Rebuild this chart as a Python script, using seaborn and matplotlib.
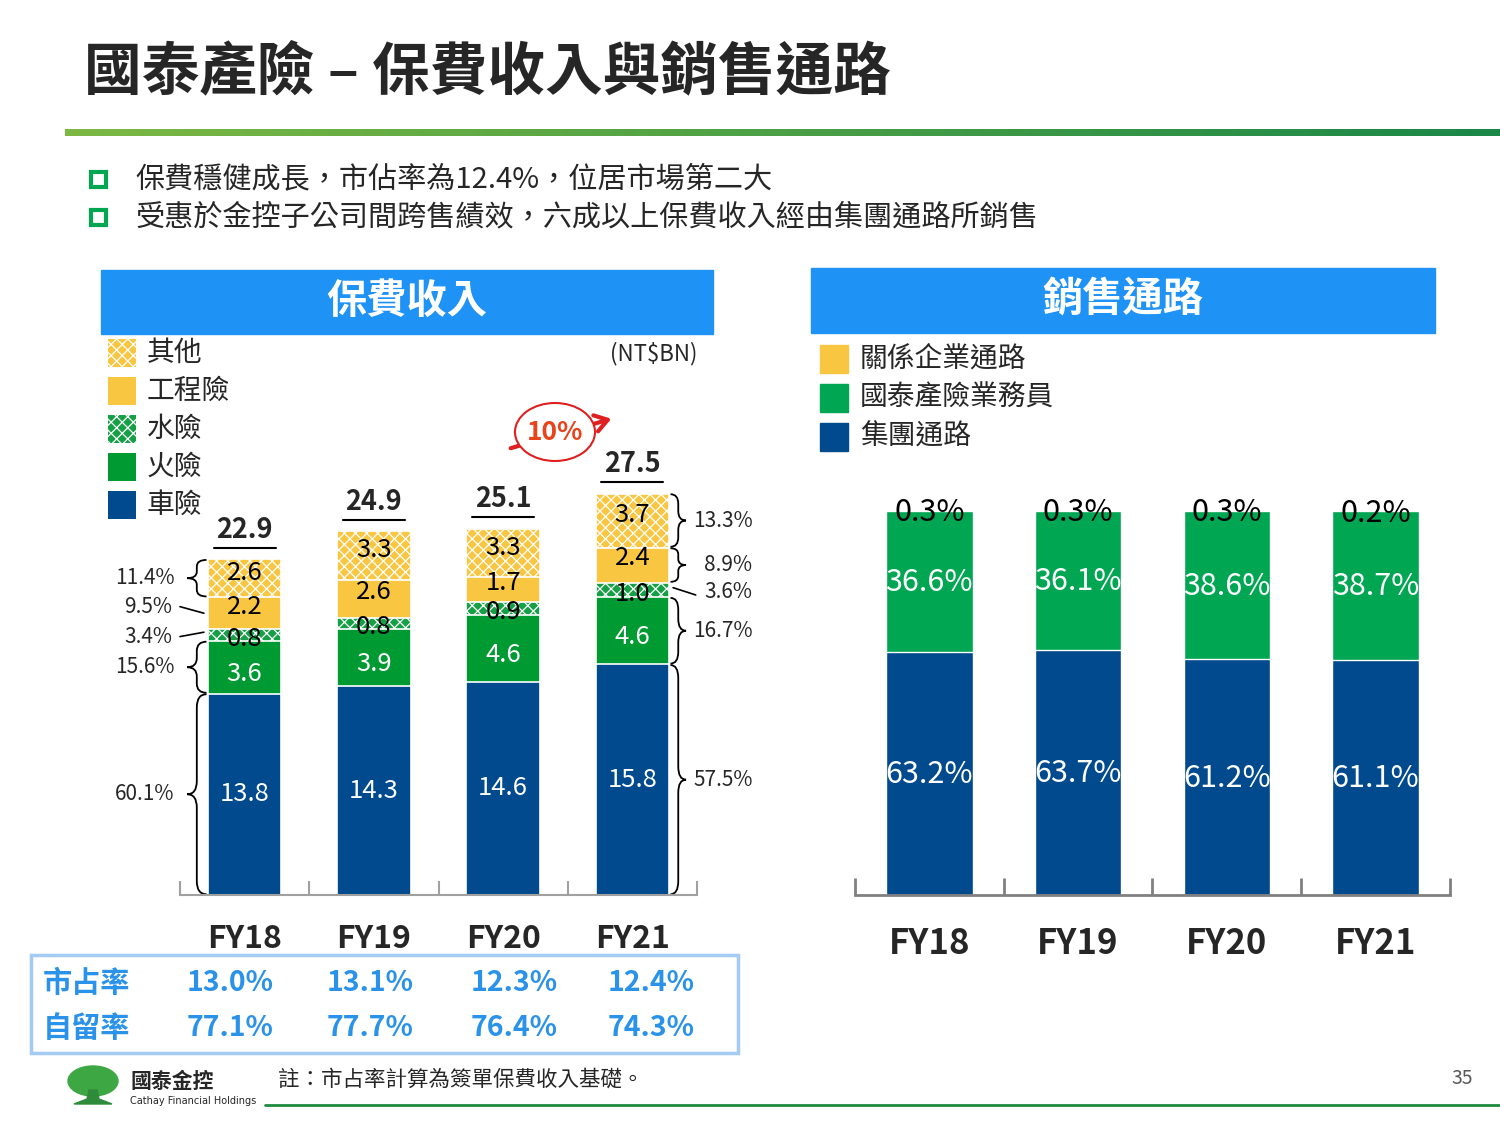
import numpy as np
import matplotlib.pyplot as plt
import seaborn as sns
from matplotlib.path import Path
from matplotlib.patches import PathPatch, Ellipse, Rectangle, FancyArrowPatch, Polygon
from matplotlib.colors import LinearSegmentedColormap

# ---------------------------------------------------------
# 1. DATA
# ---------------------------------------------------------
years = ['FY18', 'FY19', 'FY20', 'FY21']

# 保費收入 (NT$BN)
auto = [13.8, 14.3, 14.6, 15.8]          # 車險
fire = [3.6, 3.9, 4.6, 4.6]              # 火險
marine = [0.8, 0.8, 0.9, 1.0]            # 水險
engineering = [2.2, 2.6, 1.7, 2.4]       # 工程險
others = [2.6, 3.3, 3.3, 3.7]            # 其他
totals = [22.9, 24.9, 25.1, 27.5]
share_fy18 = ['60.1%', '15.6%', '3.4%', '9.5%', '11.4%']
share_fy21 = ['57.5%', '16.7%', '3.6%', '8.9%', '13.3%']
growth_label = '10%'

# 銷售通路 (%)
group_channel = [63.2, 63.7, 61.2, 61.1]     # 集團通路
agents = [36.6, 36.1, 38.6, 38.7]            # 國泰產險業務員
affiliates = [0.3, 0.3, 0.3, 0.2]            # 關係企業通路

market_share = ['13.0%', '13.1%', '12.3%', '12.4%']
retention = ['77.1%', '77.7%', '76.4%', '74.3%']

# ---------------------------------------------------------
# 2. STYLE
# ---------------------------------------------------------
sns.set_theme(style='white')
plt.rcParams['font.family'] = ['Noto Sans CJK TC', 'DejaVu Sans']
plt.rcParams['hatch.linewidth'] = 0.9

BLUE = '#004A8D'
GREEN_L = '#009A32'
GREEN_H = '#16A046'
GREEN_R = '#00A651'
YELLOW = '#F8C641'
HEAD = '#1F93F5'
TXT_BLUE = '#2A92E8'

W, H = 1500, 1125
fig = plt.figure(figsize=(15, 11.25), dpi=100)


def fx(x):
    return x / W


def fy(y):
    return 1 - y / H


def brace(ax, x_end, width, y0, y1, **kw):
    """curly brace: ends at x_end, tip at x_end - width (negative width -> '}')"""
    ym = (y0 + y1) / 2
    r = min(0.18 * (y1 - y0), 0.9)
    xm = x_end - width / 2
    xt = x_end - width
    verts = [(x_end, y1), (xm, y1), (xm, y1 - r),
             (xm, ym + r), (xm, ym), (xt, ym),
             (xm, ym), (xm, ym - r),
             (xm, y0 + r), (xm, y0), (x_end, y0)]
    codes = [Path.MOVETO, Path.CURVE3, Path.CURVE3,
             Path.LINETO, Path.CURVE3, Path.CURVE3,
             Path.CURVE3, Path.CURVE3,
             Path.LINETO, Path.CURVE3, Path.CURVE3]
    ax.add_patch(PathPatch(Path(verts, codes), fill=False, lw=1.3,
                           edgecolor='black', clip_on=False, **kw))


# ---------------------------------------------------------
# 3. TITLE AREA
# ---------------------------------------------------------
fig.text(fx(84), fy(72), '國泰產險 – 保費收入與銷售通路', fontsize=41.5,
         fontweight='bold', va='center', ha='left')

ax_rule = fig.add_axes([fx(65), fy(136), fx(1435), 7 / H])
grad = np.linspace(0, 1, 256).reshape(1, -1)
ax_rule.imshow(grad, aspect='auto',
               cmap=LinearSegmentedColormap.from_list('g', ['#7DB843', '#1A8748']))
ax_rule.axis('off')

bullets = ['保費穩健成長，市佔率為12.4%，位居市場第二大',
           '受惠於金控子公司間跨售績效，六成以上保費收入經由集團通路所銷售']
for y, t in zip([179, 217], bullets):
    fig.add_artist(Rectangle((fx(91), fy(y + 8)), 15 / W, 15 / H, fill=False,
                             edgecolor='#00A651', lw=3))
    fig.text(fx(135), fy(y), t, fontsize=21, va='center', ha='left')

# header boxes
fig.add_artist(Rectangle((fx(101), fy(334)), 612 / W, 64 / H, color=HEAD))
fig.text(fx(407), fy(301), '保費收入', fontsize=29, fontweight='bold',
         color='white', ha='center', va='center')
fig.add_artist(Rectangle((fx(811), fy(333)), 624 / W, 65 / H, color=HEAD))
fig.text(fx(1123), fy(300), '銷售通路', fontsize=29, fontweight='bold',
         color='white', ha='center', va='center')

# ---------------------------------------------------------
# 4. LEFT CHART: 保費收入 (stacked)
# ---------------------------------------------------------
ax1 = fig.add_axes([fx(180), fy(895), 517 / W, 455 / H])
layers = [('車險', auto, BLUE, None, 'white', 0.0),
          ('火險', fire, GREEN_L, None, 'white', -0.45),
          ('水險', marine, GREEN_H, 'xxx', 'black', -0.25),
          ('工程險', engineering, YELLOW, None, 'black', 0.45),
          ('其他', others, YELLOW, 'xxx', 'black', 0.35)]
cum = np.cumsum([l[1] for l in layers], axis=0)
bw = 0.57
for i in reversed(range(len(layers))):
    name, vals, col, hatch, _, _ = layers[i]
    sns.barplot(x=years, y=cum[i], color=col, saturation=1, width=bw,
                edgecolor='white', linewidth=1.2, hatch=hatch, ax=ax1)

for i, (name, vals, col, hatch, tcol, off) in enumerate(layers):
    for j, v in enumerate(vals):
        ax1.text(j, cum[i][j] - v / 2 + off, f'{v:.1f}', color=tcol,
                 fontsize=18.5, ha='center', va='center')

for j, t in enumerate(totals):
    top = cum[-1][j]
    ax1.text(j, top + 2.0, f'{t:.1f}', fontsize=19.5, fontweight='bold',
             ha='center', va='center')
    ax1.plot([j - 0.24, j + 0.24], [top + 0.8, top + 0.8], color='black',
             lw=1.5, clip_on=False)

ax1.set_xlim(-0.5, 3.5)
ax1.set_ylim(0, 455 / 14.6)
ax1.set_xlabel('')
ax1.set_ylabel('')
for s in ['top', 'right', 'left']:
    ax1.spines[s].set_visible(False)
ax1.spines['bottom'].set_color('#A0A0A0')
ax1.spines['bottom'].set_linewidth(1.5)
ax1.set_yticks([])
ax1.set_xticks(range(4))
ax1.set_xticklabels(years, fontsize=23, fontweight='bold')
ax1.tick_params(axis='x', which='major', bottom=True, length=0, pad=20)
ax1.set_xticks(np.arange(-0.5, 4, 1), minor=True)
ax1.tick_params(axis='x', which='minor', bottom=True, direction='in', length=10,
                width=1.5, color='#A0A0A0')

# share annotations FY18 (left side)
lo = cum - np.array([l[1] for l in layers])
xl = -bw / 2 - 0.01
xt_left = -0.56
for k, lab in enumerate(share_fy18):
    y0, y1 = lo[k][0], cum[k][0]
    ym = (y0 + y1) / 2
    if k == 2:
        ax1.plot([xl - 0.02, -0.5], [ym + 0.2, ym - 0.1], color='black', lw=1.2, clip_on=False)
        ax1.text(xt_left, ym - 0.15, lab, fontsize=15, ha='right', va='center')
    elif k == 3:
        ax1.plot([xl - 0.02, -0.5], [ym, ym + 0.45], color='black', lw=1.2, clip_on=False)
        ax1.text(xt_left, ym + 0.4, lab, fontsize=15, ha='right', va='center')
    else:
        brace(ax1, xl, 0.15, y0 + 0.05, y1 - 0.05)
        ax1.text(xt_left + 0.02, ym, lab, fontsize=15, ha='right', va='center')

# share annotations FY21 (right side)
xr = 3 + bw / 2 + 0.01
xt_right = 3.93
for k, lab in enumerate(share_fy21):
    y0, y1 = lo[k][3], cum[k][3]
    ym = (y0 + y1) / 2
    if k == 2:
        ax1.plot([xr + 0.02, 3.49], [ym + 0.15, ym - 0.35], color='black', lw=1.2, clip_on=False)
        ax1.text(xt_right, ym - 0.15, lab, fontsize=15, ha='right', va='center')
    else:
        brace(ax1, xr, -0.12, y0 + 0.05, y1 - 0.05)
        ax1.text(xt_right, ym, lab, fontsize=15, ha='right', va='center')

# left legend
leg_items = [('其他', YELLOW, 'xxx'), ('工程險', YELLOW, None), ('水險', GREEN_H, 'xxx'),
             ('火險', GREEN_L, None), ('車險', BLUE, None)]
for k, (name, col, hatch) in enumerate(leg_items):
    y = 353 + 38 * k
    fig.add_artist(Rectangle((fx(108), fy(y + 14)), 28 / W, 28 / H, facecolor=col,
                             edgecolor='white', hatch=hatch, lw=0))
    fig.text(fx(147), fy(y), name, fontsize=20, ha='left', va='center')
fig.text(fx(697), fy(354), '(NT$BN)', fontsize=16, ha='right', va='center')

# growth annotation
fig.add_artist(FancyArrowPatch((fx(508), fy(449)), (fx(614), fy(418)),
                               arrowstyle='->,head_length=9,head_width=6',
                               color='#E02020', lw=3, mutation_scale=1))
fig.add_artist(Ellipse((fx(555), fy(432)), 80 / W, 58 / H, facecolor='white',
                       edgecolor='#E02020', lw=1.5))
fig.text(fx(555), fy(432), growth_label, fontsize=19, fontweight='bold',
         color='#E8441C', ha='center', va='center')

# ---------------------------------------------------------
# 5. RIGHT CHART: 銷售通路 (100% stacked)
# ---------------------------------------------------------
ax2 = fig.add_axes([fx(855), fy(895), 595 / W, 395 / H])
ch_layers = [(group_channel, BLUE, 'white'), (agents, GREEN_R, 'white'),
             (affiliates, YELLOW, 'black')]
ch_cum = np.cumsum([l[0] for l in ch_layers], axis=0)
bw2 = 0.58
for i in reversed(range(len(ch_layers))):
    sns.barplot(x=years, y=ch_cum[i], color=ch_layers[i][1], saturation=1,
                width=bw2, edgecolor='white', linewidth=1.0, ax=ax2)
for i, (vals, col, tcol) in enumerate(ch_layers):
    for j, v in enumerate(vals):
        y = ch_cum[i][j] - 0.8 if i == 2 else ch_cum[i][j] - v / 2 - 0.4
        ax2.text(j, y, f'{v:.1f}%', color=tcol, fontsize=22,
                 ha='center', va='center')

ax2.set_xlim(-0.5, 3.5)
ax2.set_ylim(0, 395 / 3.85)
ax2.set_xlabel('')
ax2.set_ylabel('')
for s in ['top', 'right', 'left']:
    ax2.spines[s].set_visible(False)
ax2.spines['bottom'].set_color('#808080')
ax2.spines['bottom'].set_linewidth(2)
ax2.set_yticks([])
ax2.set_xticks(range(4))
ax2.set_xticklabels(years, fontsize=25, fontweight='bold')
ax2.tick_params(axis='x', which='major', bottom=True, length=0, pad=22)
ax2.set_xticks(np.arange(-0.5, 4, 1), minor=True)
ax2.tick_params(axis='x', which='minor', bottom=True, direction='in', length=12,
                width=2, color='#808080')

# right legend
ch_legend = [('關係企業通路', YELLOW), ('國泰產險業務員', GREEN_R), ('集團通路', BLUE)]
for k, (name, col) in enumerate(ch_legend):
    y = 359 + 39 * k
    fig.add_artist(Rectangle((fx(820), fy(y + 14)), 28 / W, 28 / H, color=col))
    fig.text(fx(860), fy(y), name, fontsize=20, ha='left', va='center')

# ---------------------------------------------------------
# 6. TABLE + FOOTER
# ---------------------------------------------------------
fig.add_artist(Rectangle((fx(31), fy(1053)), 707 / W, 98 / H, fill=False,
                         edgecolor='#A3CBF3', lw=2.5))
val_x = [230, 370, 514, 651]
for y, lab, vals in [(983, '市占率', market_share), (1028, '自留率', retention)]:
    fig.text(fx(43), fy(y), lab, fontsize=21, fontweight='bold', color=TXT_BLUE,
             ha='left', va='center')
    for x, v in zip(val_x, vals):
        fig.text(fx(x), fy(y), v, fontsize=20.5, fontweight='bold', color=TXT_BLUE,
                 ha='center', va='center')

# logo
fig.add_artist(Ellipse((fx(93), fy(1081)), 50 / W, 30 / H, color='#3DA843'))
fig.add_artist(Polygon([(fx(89), fy(1090)), (fx(97), fy(1090)), (fx(99), fy(1099)),
                        (fx(112), fy(1104)), (fx(74), fy(1104)), (fx(87), fy(1099))],
                       closed=True, color='#2E8B3A'))
fig.text(fx(130), fy(1081), '國泰金控', fontsize=15, fontweight='bold',
         ha='left', va='center')
fig.text(fx(130), fy(1101), 'Cathay Financial Holdings', fontsize=7,
         ha='left', va='center', family=['DejaVu Sans'])
fig.text(fx(278), fy(1080), '註：市占率計算為簽單保費收入基礎。', fontsize=15.5,
         ha='left', va='center')
fig.add_artist(plt.Line2D([fx(265), 1], [fy(1105), fy(1105)], color='#1E8A3E', lw=2))
fig.text(fx(1473), fy(1079), '35', fontsize=14, color='#595959', ha='right', va='center')

fig.savefig('out.png', dpi=100)
